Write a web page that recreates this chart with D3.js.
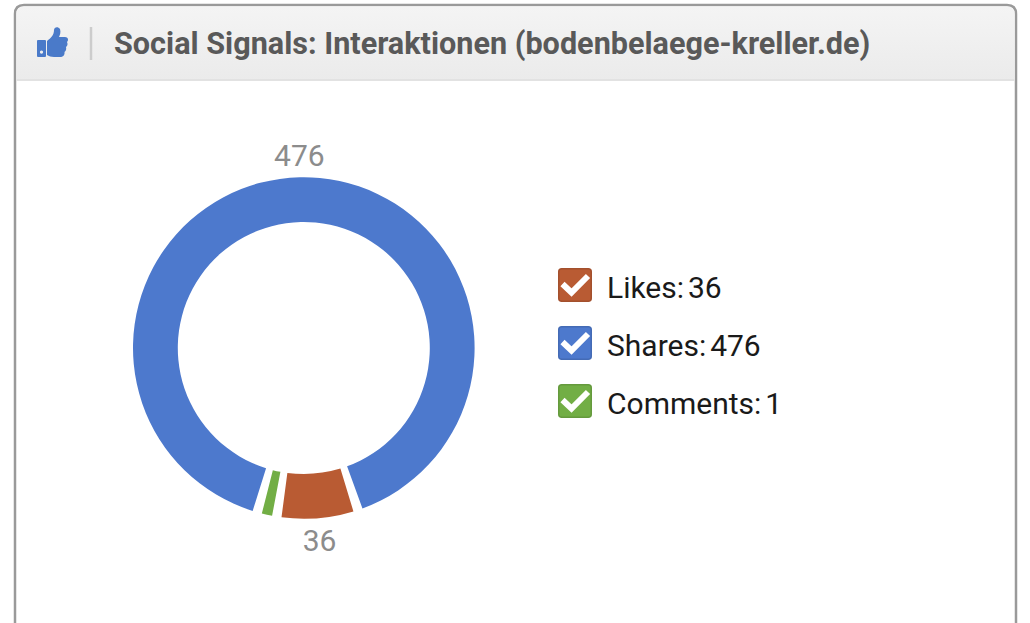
<!DOCTYPE html>
<html lang="de">
<head>
  <meta charset="UTF-8">
  <title>Social Signals</title>
  <style>
    html, body { margin: 0; padding: 0; background: #fff; overflow: hidden; }
    svg { display: block; font-family: Roboto, sans-serif; }
  </style>
</head>
<body>

  <svg id="svg" width="1030" height="623"></svg>

  <script src="https://d3js.org/d3.v7.min.js"></script>
  <script>
    const title = 'Social Signals: Interaktionen (bodenbelaege-kreller.de)'
    const categories = ['Likes', 'Shares', 'Comments']
    const values = [36, 476, 1]
    const colors = ['#b95b33', '#4d79cd', '#72ae45']
    const showLabel = [true, true, false]

    const svg = d3.select('#svg')
    const defs = svg.append('defs')
    const grad = defs.append('linearGradient')
      .attr('id', 'head')
      .attr('x1', 0).attr('x2', 0).attr('y1', 0).attr('y2', 1)
    grad.append('stop').attr('offset', '0%').attr('stop-color', '#f4f4f4')
    grad.append('stop').attr('offset', '100%').attr('stop-color', '#ebebeb')

    // card
    svg.append('path')
      .attr('d', 'M15,640 V14 Q15,5 24,5 H1007 Q1016,5 1016,14 V640 Z')
      .attr('fill', '#fff')
      .attr('stroke', '#9a9a9a')
      .attr('stroke-width', 2.5)
    svg.append('path')
      .attr('d', 'M16.5,80 V14 Q16.5,6.5 24,6.5 H1007 Q1014.5,6.5 1014.5,14 V80 Z')
      .attr('fill', 'url(#head)')
    svg.append('line')
      .attr('x1', 16.5).attr('x2', 1014.5)
      .attr('y1', 80).attr('y2', 80)
      .attr('stroke', '#e2e2e2')
      .attr('stroke-width', 2)

    // thumb icon
    svg.append('path')
      .attr('fill', '#4a7ac9')
      .attr('fill-rule', 'evenodd')
      .attr('d', 'M38,40 H45 Q46,40 46,41 V56 Q46,57 45,57 H38 Q37,57 37,56 V41 Q37,40 38,40 Z M41.5,50.5 a1.6,1.6 0 1,0 0.01,0 Z')
    svg.append('path')
      .attr('fill', '#4a7ac9')
      .attr('d', 'M47,41 C51,38 54,35 54,30 C54,27 58,26 60,29 C61,32 60,35 59,37 H65 C68,37 69,40 67,42 C68,44 67.5,46 66,47 C66.5,49 66,51 64.5,52 C65,55 63,57 60,57 H54 C51,57 49,56 47,55 Z')
    svg.append('line')
      .attr('x1', 91).attr('x2', 91)
      .attr('y1', 27).attr('y2', 60)
      .attr('stroke', '#cccccc')
      .attr('stroke-width', 2.5)

    svg.append('text')
      .text(title)
      .attr('x', 114)
      .attr('y', 54)
      .style('font-size', '30.6px')
      .style('font-weight', 700)
      .attr('fill', '#595959')

    // donut
    const cx = 303.8
    const cy = 348
    const outer = 170.8
    const inner = 126
    const labelR = 193
    const deg = Math.PI / 180
    const gap = 3.2 * deg
    const minSlice = 5.2 // smallest slice is drawn a bit wider than its value, like the original

    const pie = d3.pie()
      .sort(null)
      .value(d => Math.max(d, minSlice))
      .startAngle(189.1 * deg)
      .endAngle((189.1 - 360) * deg)
      .padAngle(gap)
    const arcs = pie(values)
    // radial gaps, so the arc's own constant-width padding stays off
    const arc = d3.arc()
      .innerRadius(inner)
      .outerRadius(outer)
      .padAngle(0)
      .startAngle(d => d.startAngle - gap / 2)
      .endAngle(d => d.endAngle + gap / 2)
    const labelArc = d3.arc()
      .innerRadius(labelR)
      .outerRadius(labelR)
      .padAngle(0)
      .startAngle(d => d.startAngle)
      .endAngle(d => d.endAngle)

    const donut = svg.append('g')
      .attr('transform', `translate(${cx},${cy})`)
    donut.selectAll('path')
      .data(arcs)
      .enter()
      .append('path')
      .attr('d', arc)
      .attr('fill', (d, i) => colors[i])
    donut.selectAll('text')
      .data(arcs.filter((d, i) => showLabel[i]))
      .enter()
      .append('text')
      .text(d => d.data)
      .attr('x', d => labelArc.centroid(d)[0])
      .attr('y', d => labelArc.centroid(d)[1] + 10.5)
      .attr('text-anchor', 'middle')
      .style('font-size', '30px')
      .attr('fill', '#8c8c8c')

    // legend
    const legendY = d3.scalePoint()
      .domain(categories)
      .range([285, 401])
    const items = svg.selectAll('g.item')
      .data(categories)
      .enter()
      .append('g')
      .attr('class', 'item')
      .attr('transform', d => `translate(558,${legendY(d)})`)
    items.append('rect')
      .attr('x', 0.75)
      .attr('y', -16.25)
      .attr('width', 32.5)
      .attr('height', 32.5)
      .attr('rx', 3)
      .attr('fill', (d, i) => colors[i])
      .attr('stroke', (d, i) => d3.color(colors[i]).darker(0.35))
      .attr('stroke-width', 1.5)
    items.append('path')
      .attr('d', 'M4.5,-1 L13.5,7.5 L30,-9')
      .attr('fill', 'none')
      .attr('stroke', '#fff')
      .attr('stroke-width', 6)
    items.append('text')
      .text((d, i) => `${d}: ${values[i]}`)
      .attr('x', 49)
      .attr('y', 13)
      .style('font-size', '30px')
      .style('word-spacing', '-3.5px')
      .attr('fill', '#1a1a1a')
  </script>
</body>
</html>
